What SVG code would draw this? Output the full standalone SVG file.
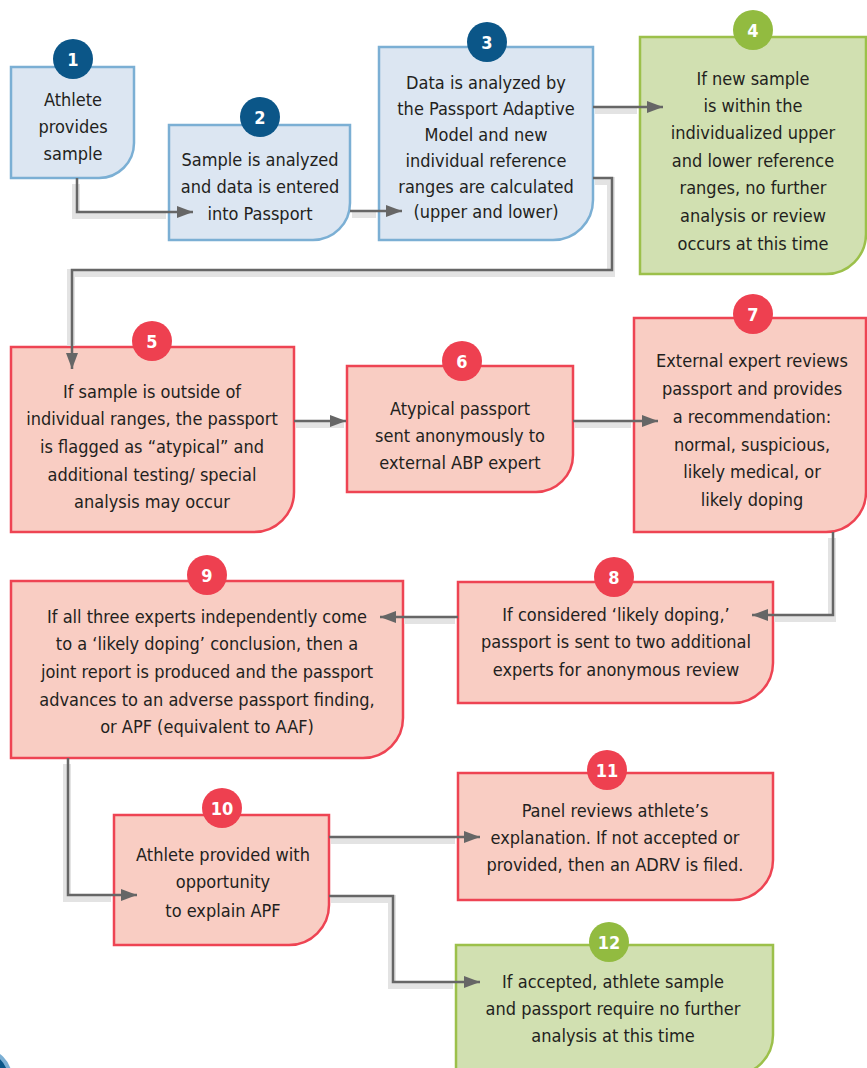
<svg xmlns="http://www.w3.org/2000/svg" width="867" height="1068" viewBox="0 0 867 1068">
<defs>
<marker id="ah" markerWidth="16" markerHeight="12" refX="16" refY="6" orient="auto" markerUnits="userSpaceOnUse">
<path d="M0,0 L16,6 L0,12 Z" fill="#666"/>
</marker>
<style>
.blue{fill:#dce6f2;stroke:#7bafd4;stroke-width:2.5}
.green{fill:#d1e0b1;stroke:#9cc04a;stroke-width:2.5}
.red{fill:#f9cdc3;stroke:#ee4453;stroke-width:2.5}
.cb{fill:#0b5688}
.cg{fill:#92bb40}
.cr{fill:#ee4050}
.num{font-family:"DejaVu Sans Condensed","DejaVu Sans",sans-serif;font-weight:bold;font-size:18px;fill:#fff;text-anchor:middle}
.t{font-family:"DejaVu Sans Condensed","DejaVu Sans",sans-serif;font-size:18px;fill:#231f20;text-anchor:middle}
.sh{fill:none;stroke:#e3e3e3;stroke-width:8}
.ln{fill:none;stroke:#666;stroke-width:2.5;marker-end:url(#ah)}
</style>
</defs>
<rect width="867" height="1068" fill="#fff"/>
<g id="n1">
<path class="blue" d="M11,67 H134 V143 A35,35 0 0 1 99,178 H11 Z"/>
<circle class="cb" cx="73" cy="59" r="20"/>
<text class="num" x="73" y="65.5">1</text>
<text class="t" x="73" y="106">Athlete</text>
<text class="t" x="73" y="133">provides</text>
<text class="t" x="73" y="160">sample</text>
</g>
<g id="n2">
<path class="blue" d="M169,125 H350 V203 A37,37 0 0 1 313,240 H169 Z"/>
<circle class="cb" cx="260" cy="117" r="20"/>
<text class="num" x="260" y="123.5">2</text>
<text class="t" x="260" y="166">Sample is analyzed</text>
<text class="t" x="260" y="193">and data is entered</text>
<text class="t" x="260" y="220">into Passport</text>
</g>
<g id="n3">
<path class="blue" d="M379,47 H593 V200 A40,40 0 0 1 553,240 H379 Z"/>
<circle class="cb" cx="487" cy="42" r="20"/>
<text class="num" x="487" y="48.5">3</text>
<text class="t" x="486" y="89">Data is analyzed by</text>
<text class="t" x="486" y="115">the Passport Adaptive</text>
<text class="t" x="486" y="141">Model and new</text>
<text class="t" x="486" y="167">individual reference</text>
<text class="t" x="486" y="193">ranges are calculated</text>
<text class="t" x="486" y="218">(upper and lower)</text>
</g>
<g id="n4">
<path class="green" d="M640,37 H866 V234 A40,40 0 0 1 826,274 H640 Z"/>
<circle class="cg" cx="753" cy="30" r="20"/>
<text class="num" x="753" y="36.5">4</text>
<text class="t" x="753" y="85">If new sample</text>
<text class="t" x="753" y="112">is within the</text>
<text class="t" x="753" y="139">individualized upper</text>
<text class="t" x="753" y="167">and lower reference</text>
<text class="t" x="753" y="194">ranges, no further</text>
<text class="t" x="753" y="222">analysis or review</text>
<text class="t" x="753" y="250">occurs at this time</text>
</g>
<g id="n5">
<path class="red" d="M11,347 H294 V492 A40,40 0 0 1 254,532 H11 Z"/>
<circle class="cr" cx="152" cy="341" r="20"/>
<text class="num" x="152" y="347.5">5</text>
<text class="t" x="152" y="398">If sample is outside of</text>
<text class="t" x="152" y="425">individual ranges, the passport</text>
<text class="t" x="152" y="453">is flagged as “atypical” and</text>
<text class="t" x="152" y="481">additional testing/ special</text>
<text class="t" x="152" y="508">analysis may occur</text>
</g>
<g id="n6">
<path class="red" d="M347,366 H573 V455 A37,37 0 0 1 536,492 H347 Z"/>
<circle class="cr" cx="462" cy="361" r="20"/>
<text class="num" x="462" y="367.5">6</text>
<text class="t" x="460" y="415">Atypical passport</text>
<text class="t" x="460" y="442">sent anonymously to</text>
<text class="t" x="460" y="469">external ABP expert</text>
</g>
<g id="n7">
<path class="red" d="M634,318 H866 V492 A40,40 0 0 1 826,532 H634 Z"/>
<circle class="cr" cx="753" cy="314" r="20"/>
<text class="num" x="753" y="320.5">7</text>
<text class="t" x="752" y="367">External expert reviews</text>
<text class="t" x="752" y="395">passport and provides</text>
<text class="t" x="752" y="423">a recommendation:</text>
<text class="t" x="752" y="451">normal, suspicious,</text>
<text class="t" x="752" y="478">likely medical, or</text>
<text class="t" x="752" y="506">likely doping</text>
</g>
<g id="n8">
<path class="red" d="M458,582 H773 V663 A40,40 0 0 1 733,703 H458 Z"/>
<circle class="cr" cx="614" cy="577" r="20"/>
<text class="num" x="614" y="583.5">8</text>
<text class="t" x="616" y="621">If considered ‘likely doping,’</text>
<text class="t" x="616" y="648">passport is sent to two additional</text>
<text class="t" x="616" y="676">experts for anonymous review</text>
</g>
<g id="n9">
<path class="red" d="M11,581 H403 V718 A40,40 0 0 1 363,758 H11 Z"/>
<circle class="cr" cx="207" cy="575" r="20"/>
<text class="num" x="207" y="581.5">9</text>
<text class="t" x="207" y="623">If all three experts independently come</text>
<text class="t" x="207" y="650">to a ‘likely doping’ conclusion, then a</text>
<text class="t" x="207" y="678">joint report is produced and the passport</text>
<text class="t" x="207" y="706">advances to an adverse passport finding,</text>
<text class="t" x="207" y="733">or APF (equivalent to AAF)</text>
</g>
<g id="n10">
<path class="red" d="M114,815 H329 V905 A40,40 0 0 1 289,945 H114 Z"/>
<circle class="cr" cx="222" cy="808" r="20"/>
<text class="num" x="222" y="814.5">10</text>
<text class="t" x="223" y="861">Athlete provided with</text>
<text class="t" x="223" y="888">opportunity</text>
<text class="t" x="223" y="917">to explain APF</text>
</g>
<g id="n11">
<path class="red" d="M458,773 H773 V860 A40,40 0 0 1 733,900 H458 Z"/>
<circle class="cr" cx="607" cy="770" r="20"/>
<text class="num" x="607" y="776.5">11</text>
<text class="t" x="615" y="817">Panel reviews athlete’s</text>
<text class="t" x="615" y="844">explanation. If not accepted or</text>
<text class="t" x="615" y="871">provided, then an ADRV is filed.</text>
</g>
<g id="n12">
<path class="green" d="M456,945 H773 V1035 A40,40 0 0 1 733,1075 H456 Z"/>
<circle class="cg" cx="609" cy="942" r="20"/>
<text class="num" x="609" y="948.5">12</text>
<text class="t" x="613" y="988">If accepted, athlete sample</text>
<text class="t" x="613" y="1015">and passport require no further</text>
<text class="t" x="613" y="1042">analysis at this time</text>
</g>
<g id="corner-badge">
<circle cx="-18" cy="1078" r="28" fill="#0b5688" stroke="#7bafd4" stroke-width="4"/>
</g>
<g id="connectors">
<g transform="translate(-1,3)">
<path class="sh" d="M77,181 V212 H167"/>
<path class="sh" d="M353,211 H377"/>
<path class="sh" d="M596,107 H638"/>
<path class="sh" d="M596,178 H612 V270 H72 V343"/>
<path class="sh" d="M297,421 H345"/>
<path class="sh" d="M576,421 H632"/>
<path class="sh" d="M833,535 V615 H775"/>
<path class="sh" d="M456,617 H405"/>
<path class="sh" d="M68,761 V895 H112"/>
<path class="sh" d="M332,837 H456"/>
<path class="sh" d="M332,896 H393 V982 H454"/>
</g>
<path class="ln" d="M77,178 V212 H193"/>
<path class="ln" d="M350,211 H402"/>
<path class="ln" d="M593,107 H663"/>
<path class="ln" d="M593,178 H612 V270 H72 V369"/>
<path class="ln" d="M294,421 H346"/>
<path class="ln" d="M573,421 H658"/>
<path class="ln" d="M833,532 V615 H752"/>
<path class="ln" d="M458,617 H380"/>
<path class="ln" d="M68,758 V895 H137"/>
<path class="ln" d="M329,837 H480"/>
<path class="ln" d="M329,896 H393 V982 H480"/>
</g>
</svg>
